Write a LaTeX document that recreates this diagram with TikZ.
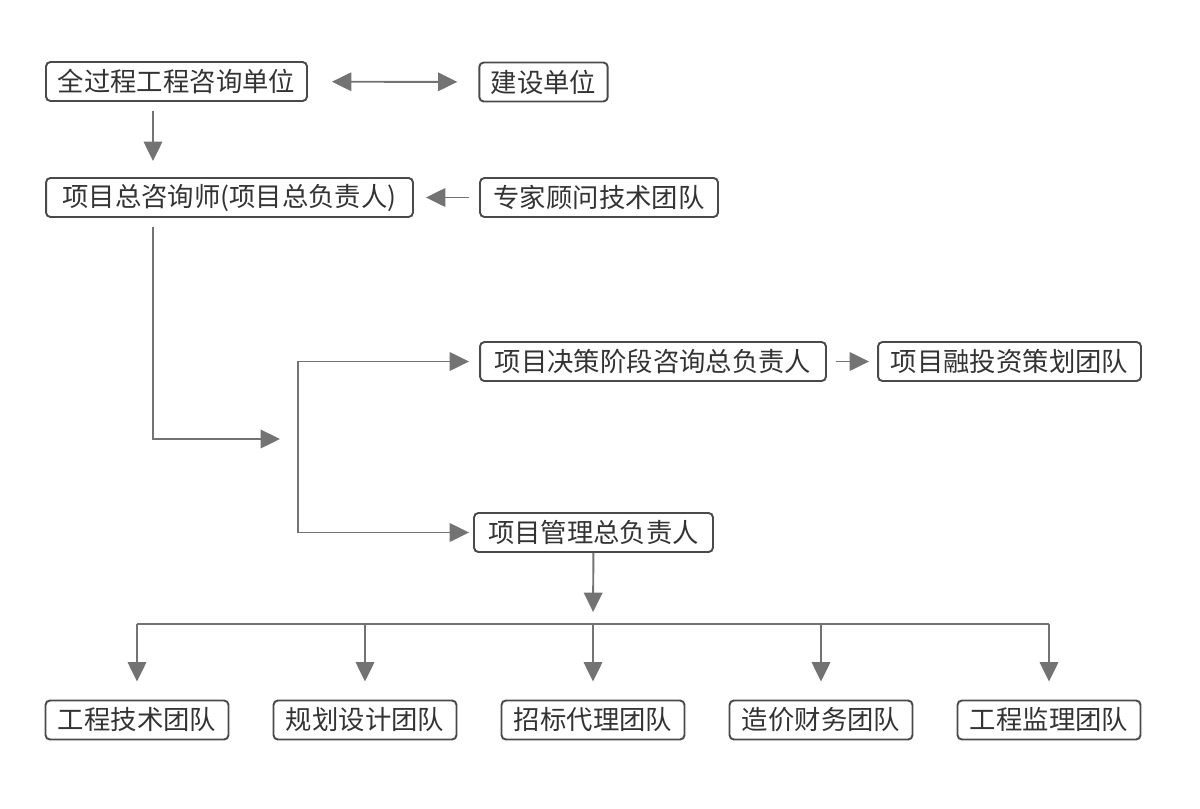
\documentclass[tikz,border=0pt]{standalone}
\usepackage{fontspec}
\setmainfont{Noto Sans CJK SC}
\usetikzlibrary{arrows.meta}
\definecolor{boxgray}{HTML}{4A4A4A}
\definecolor{linegray}{HTML}{737373}
\definecolor{textgray}{HTML}{333333}

\begin{document}
\begin{tikzpicture}[x=0.02cm, y=-0.02cm,
    box/.style={draw=boxgray, line width=1.1pt, rounded corners=2.5pt,
        text=textgray, font=\fontsize{15}{18}\selectfont,
        inner xsep=0.23cm, inner ysep=0pt, minimum height=0.78cm},
    team/.style={box, minimum width=3.66cm},
    link/.style={draw=linegray, line width=1.1pt},
    arr/.style={link, -{Triangle[length=11pt, width=10.5pt]}}
]
    % --- 画布范围 ---
    \useasboundingbox (0,0) rectangle (1200,808);

    % --- 上部节点 ---
    \node[box, minimum width=5.22cm] (quan) at (176.5, 81.5) {全过程工程咨询单位};
    \node[box, minimum width=2.54cm] (jianshe) at (543.5, 82) {建设单位};
    \node[box, minimum width=7.34cm] (zong) at (229.5, 197.5) {项目总咨询师(项目总负责人)};
    \node[box, minimum width=4.76cm] (zhuanjia) at (599, 197.5) {专家顾问技术团队};

    % --- 中部节点 ---
    \node[box, minimum width=6.92cm] (juece) at (653, 361.5) {项目决策阶段咨询总负责人};
    \node[box, minimum width=5.26cm] (rongzi) at (1009.5, 361.5) {项目融投资策划团队};
    \node[box, minimum width=4.78cm] (guanli) at (593.5, 532.5) {项目管理总负责人};

    % --- 底部团队，间距 228 ---
    \def\teamY{720}
    \node[team] (gongcheng) at (137, \teamY) {工程技术团队};
    \node[team] (guihua) at (365, \teamY) {规划设计团队};
    \node[team] (zhaobiao) at (593, \teamY) {招标代理团队};
    \node[team] (zaojia) at (821, \teamY) {造价财务团队};
    \node[team] (jianli) at (1049, \teamY) {工程监理团队};

    % --- 辅助坐标 ---
    \coordinate (trunk) at (153, 0);     % 左侧竖线
    \coordinate (mid) at (280, 439);     % 中间箭头尖
    \coordinate (fork) at (298, 445);    % 分叉竖线
    \coordinate (bus) at (593, 624);     % 底部横线

    % --- 连线 ---
    \draw[arr, {Triangle[length=11pt, width=10.5pt]}-{Triangle[length=11pt, width=10.5pt]},
        shorten <=0.48cm, shorten >=0.42cm] (quan) -- (jianshe);
    \draw[arr, shorten <=0.18cm, shorten >=0.32cm] (quan.south -| trunk) -- (zong.north -| trunk);
    \draw[arr, shorten <=0.2cm, shorten >=0.24cm] (zhuanjia) -- (zong);
    \draw[arr, shorten <=0.18cm] (zong.south -| trunk) |- (mid);
    \draw[arr, shorten >=0.2cm] (fork) |- (juece.west);
    \draw[arr, shorten >=0.08cm] (fork) |- (guanli.west);
    \draw[arr, shorten <=0.18cm, shorten >=0.16cm] (juece) -- (rongzi);
    \draw[arr, shorten >=0.24cm] (guanli) -- (bus);
    \draw[link] (gongcheng.north |- bus) -- (jianli.north |- bus);
    \foreach \t in {gongcheng, guihua, zhaobiao, zaojia, jianli}
        \draw[arr, shorten >=0.36cm] (\t.north |- bus) -- (\t.north);

\end{tikzpicture}
\end{document}
